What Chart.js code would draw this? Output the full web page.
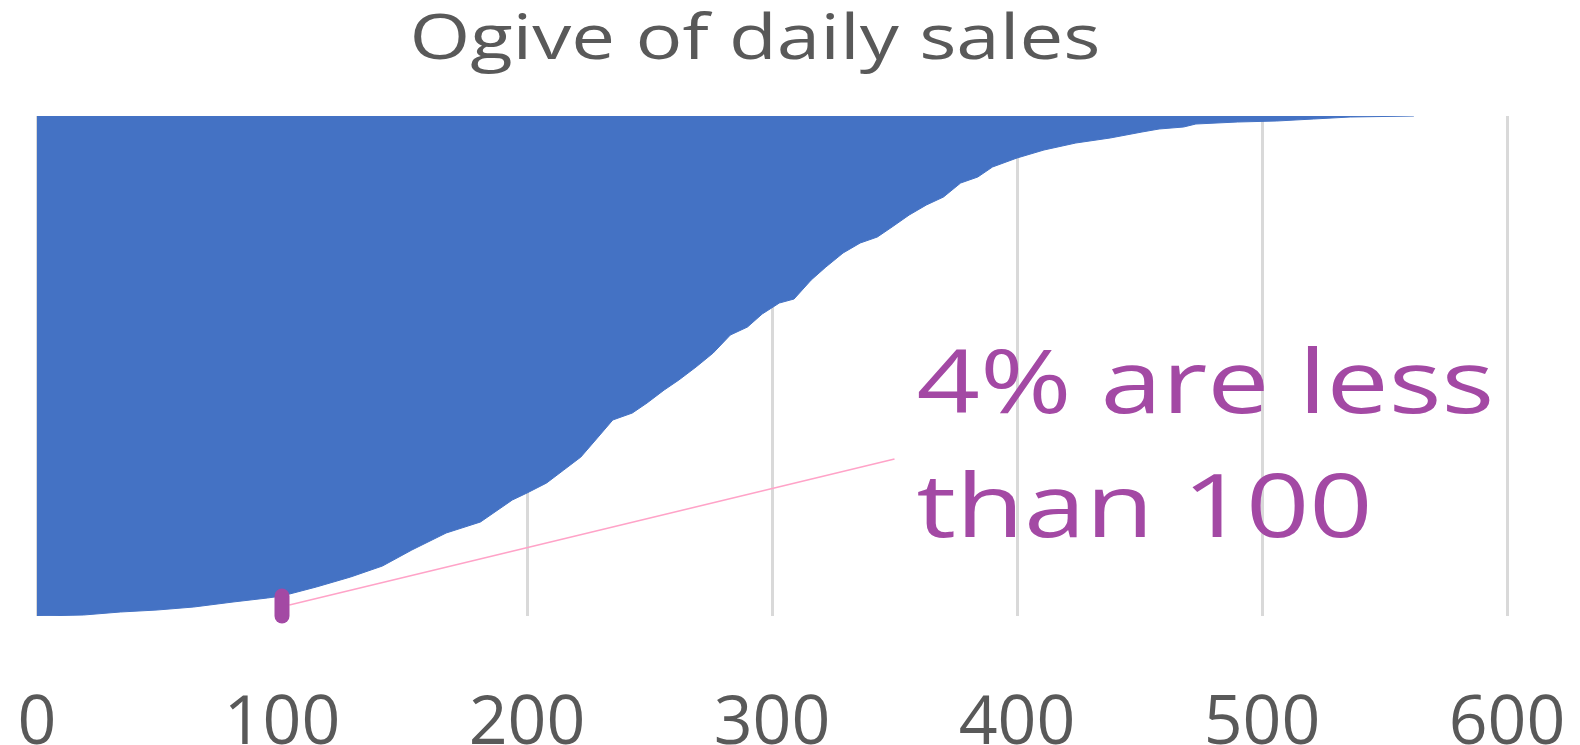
<!DOCTYPE html>
<html>
<head>
<meta charset="utf-8">
<title>Ogive of daily sales</title>
<script src="https://cdn.jsdelivr.net/npm/chart.js@4.4.1/dist/chart.umd.min.js"></script>
<style>
  html, body { margin: 0; padding: 0; background: #fff; }
  #wrap { width: 1580px; height: 745px; position: relative; }
</style>
</head>
<body>
<div id="wrap"><canvas id="ogive"></canvas></div>
<script>
// daily sales value vs cumulative share of days
const sales = [0, 19, 34, 49, 64, 80, 94, 100, 114, 128, 141, 153, 167, 181, 194, 200,
  208, 215, 222, 228, 235, 243, 249, 256, 262, 269, 276, 283, 290, 296, 303, 309,
  316, 322, 329, 336, 343, 349, 356, 363, 370, 377, 384, 390, 400, 411, 424, 438,
  451, 458, 468, 473, 490, 506, 521, 536, 562];
const cumShare = [0, 0.002, 0.008, 0.012, 0.018, 0.028, 0.036, 0.040, 0.058, 0.078, 0.100, 0.132, 0.166, 0.188, 0.232, 0.246,
  0.266, 0.292, 0.318, 0.352, 0.392, 0.406, 0.426, 0.452, 0.472, 0.498, 0.526, 0.562, 0.578, 0.604, 0.626, 0.634,
  0.672, 0.698, 0.726, 0.746, 0.758, 0.778, 0.802, 0.822, 0.838, 0.866, 0.878, 0.898, 0.916, 0.932, 0.946, 0.956,
  0.968, 0.974, 0.978, 0.984, 0.988, 0.990, 0.994, 0.998, 1.0];
const xTicks = [0, 100, 200, 300, 400, 500, 600];

// highlighted point: share of days under 100
const markX = 100;
const markShare = 0.04;
// leader line from the marker to the note
const leaderX = [103, 350];
const leaderY = [0.022, 0.314];
const noteLines = ['4% are less', 'than 100'];
const noteX = 359;
const noteY = [0.406, 0.158];

const titleText = 'Ogive of daily sales';
const grey = '#595959';
const purple = '#A349A4';
const stretch = 1.26; // widen text a little

const ogivePts = sales.map((v, i) => ({x: v, y: cumShare[i]}));

function wideText(ctx, txt, x, y, align) {
  ctx.save();
  ctx.translate(x, y);
  ctx.scale(stretch, 1);
  ctx.textAlign = align;
  ctx.fillText(txt, 0, 0);
  ctx.restore();
}

const textPlugin = {
  id: 'texts',
  afterDraw(chart) {
    const ctx = chart.ctx;
    const xs = chart.scales.x, ys = chart.scales.y;
    ctx.save();
    ctx.textBaseline = 'alphabetic';
    ctx.fillStyle = grey;
    ctx.font = '62px "Open Sans"';
    wideText(ctx, titleText, 755, 59, 'center');

    ctx.fillStyle = purple;
    ctx.font = '88px "Open Sans"';
    noteLines.forEach((t, i) => {
      wideText(ctx, t, xs.getPixelForValue(noteX), ys.getPixelForValue(noteY[i]), 'left');
    });
    ctx.restore();
  }
};

new Chart(document.getElementById('ogive'), {
  type: 'line',
  data: {
    datasets: [
      {
        label: 'ogive',
        data: ogivePts,
        fill: 'end',
        backgroundColor: '#4472C4',
        borderColor: '#4472C4',
        borderWidth: 1,
        pointRadius: 0,
        tension: 0,
        order: 3
      },
      {
        label: 'leader',
        data: leaderX.map((v, i) => ({x: v, y: leaderY[i]})),
        borderColor: '#FFA3C8',
        borderWidth: 1.5,
        pointRadius: 0,
        fill: false,
        order: 2
      },
      {
        label: 'mark',
        data: [{x: markX, y: 0}, {x: markX, y: markShare}],
        borderColor: purple,
        borderWidth: 15,
        borderCapStyle: 'round',
        pointRadius: 0,
        fill: false,
        clip: false,
        order: 1
      }
    ]
  },
  options: {
    responsive: true,
    maintainAspectRatio: false,
    animation: false,
    layout: { padding: { left: 37, right: 73, top: 116, bottom: 0 } },
    plugins: { legend: { display: false }, tooltip: { enabled: false }, title: { display: false } },
    scales: {
      x: {
        type: 'linear',
        min: 0,
        max: 600,
        afterBuildTicks(scale) { scale.ticks = xTicks.map(v => ({value: v})); },
        afterFit(scale) {
          // side room is set by layout padding, keep the axis band fixed
          scale.height = 129;
          scale.paddingLeft = 0;
          scale.paddingRight = 0;
        },
        grid: { color: '#D9D9D9', lineWidth: 3, drawTicks: false },
        border: { display: false },
        ticks: {
          color: grey,
          padding: 68,
          maxRotation: 0,
          font: { family: '"Open Sans"', size: 68 }
        }
      },
      y: { display: false, min: 0, max: 1 }
    }
  },
  plugins: [textPlugin]
});
</script>
</body>
</html>
